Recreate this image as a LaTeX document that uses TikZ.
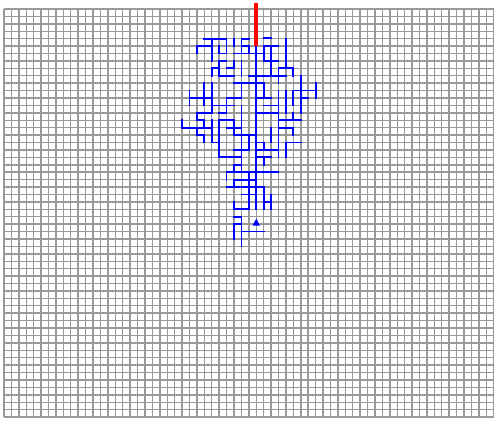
\documentclass[tikz,border=0pt]{standalone}
\usepackage{tikz}

\begin{document}
\begin{tikzpicture}[x=0.2cm,y=-0.2cm,
    gridline/.style={gray!80,line width=1.1pt},
    walk/.style={blue,line width=1.35pt,line cap=rect},
    seed/.style={red,line width=3.3pt}]
  \useasboundingbox (-0.54,-1.21) rectangle (66.58,55.93);
  % lattice
  \foreach \i in {0,...,66} \draw[gridline] (\i,0) -- (\i,55);
  \foreach \j in {0,...,55} \draw[gridline] (0,\j) -- (66,\j);
  % cluster, rows 4--9
  \draw[walk] (27,4) -- (30,4) (28,4) -- (28,7) (30,4) -- (30,6) -- (29,6) -- (29,5);
  \draw[walk] (26,6) -- (26,5) -- (28,5) (31,4) -- (31,5) (32,6) -- (32,4) -- (33,4);
  \draw[walk] (31,6) -- (33,6) (32,5) -- (33,5) -- (33,6) -- (35,6);
  \draw[walk] (35,3.9) -- (36,3.9) (35,7) -- (35,5) -- (37,5) (36,5) -- (36,9) (35,7) -- (37,7);
  \draw[walk] (38,4) -- (38,8) (37,10) -- (37,8) -- (39,8) -- (39,9);
  \draw[walk] (30,7) -- (29,7) -- (29,9) -- (31,9) (31,7) -- (31,8) -- (30,8) (32,7) -- (32,9);
  \draw[walk] (28,9) -- (28,8) -- (29,8) (33,9) -- (38,9);
  \draw[walk] (34,5) -- (34,27);
  % rows 10--14
  \draw[walk] (31,10) -- (35,10) -- (35,12) (32,10) -- (32,12) -- (30,12) -- (30,13);
  \draw[walk] (27,10) -- (27,13) (28,10) -- (28,14) (25,11) -- (25,13) (25,12) -- (28,12) (28,13) -- (31,13);
  \draw[walk] (34,12) -- (36,12) (35,13) -- (37,13) (37,11) -- (37,20) (38,11) -- (38,14);
  \draw[walk] (39,13) -- (39,11) -- (42,11) (42,10) -- (42,12) (40,9) -- (40,14) (40,12) -- (41,12);
  \draw[walk] (34,14) -- (37,14) (37,15) -- (40,15) (39,14) -- (39,15);
  \draw[walk] (26,15) -- (26,14) -- (28,14) (32,13) -- (32,18) (29,14) -- (30,14) -- (30,13);
  % rows 15--21
  \draw[walk] (24,15) -- (24,16) -- (28,16) (26,15) -- (27,15) -- (27,16) (26,16) -- (26,17) -- (27,17) -- (27,18);
  \draw[walk] (28,15) -- (28,18) -- (29,18) (29,15) -- (29,20) (29,15) -- (31,15) -- (31,17) (30,16) -- (32,16);
  \draw[walk] (31,17) -- (34,17) (33,17) -- (33,19) (31,19) -- (33,19) (32,18) -- (32,22);
  \draw[walk] (37,16) -- (39,16) -- (39,17) (36,16) -- (36,18) (34,18) -- (35,18) -- (35,19) (34,19) -- (37,19);
  \draw[walk] (38,20) -- (38,18) -- (40,18) (34,20) -- (36,20) (35,20) -- (35,21) (29,20) -- (32,20) (31,21) -- (32,21) (31,21) -- (31,22);
  % rows 22--32
  \draw[walk] (30,22) -- (37,22) (30,22) -- (30,23) (31,24) -- (31,23) -- (34,23) (33,22) -- (33,27);
  \draw[walk] (30,24) -- (35,24) -- (35,27) (32,25) -- (34,25) (35,26) -- (36,26) (36,25) -- (36,27);
  \draw[walk] (31,26) -- (31,27) -- (33,27) (31,28) -- (32,28) -- (32,32) (31,29) -- (32,29) (31,29) -- (31,31) (32,30) -- (35,30);
  % seed and walker
  \draw[seed] (34,-0.8) -- (34,5);
  \fill[blue] (33.5,29.2) -- (34.5,29.2) -- (34,28.25) -- cycle;
\end{tikzpicture}
\end{document}
